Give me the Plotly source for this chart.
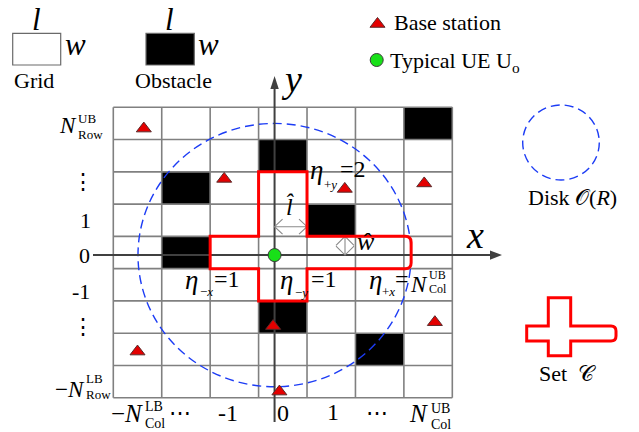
import plotly.graph_objects as go

W, H = 639, 432
SERIF = "Liberation Serif, Times New Roman, DejaVu Serif, serif"

# on-screen size of one grid cell (length l across, width w down) and the
# figure-pixel position of the centre of cell (0, 0)
CELL_W, CELL_H = 48.43, 32.27
ORIGIN = (282.8, 252.5)


def gx(px):
    """Figure pixel column -> grid units (one unit = one cell length)."""
    return (px - ORIGIN[0]) / CELL_W


def gy(py):
    """Figure pixel row -> grid units (one unit = one cell width)."""
    return (ORIGIN[1] - py) / CELL_H


# ---------------------------------------------------------------- data ----
COLS = [-3, -2, -1, 0, 1, 2, 3]
ROWS = [-4, -3, -2, -1, 0, 1, 2, 3, 4]

# obstacle cells (column index, row index)
OBSTACLE_COL = [3, 0, -2, 1, -2, 0, 2]
OBSTACLE_ROW = [4, 3, 2, 1, 0, -2, -3]

# base stations, in grid units
BS_X = [-2.87, -1.21, 1.28, 2.92, -0.20, -3.00, -0.07, 3.14]
BS_Y = [3.84, 2.28, 1.97, 2.14, -2.28, -3.07, -4.31, -2.16]

# typical user
UE_X, UE_Y = -0.17, -0.08

# extent of the set C around the user's cell
ETA_NEG_X = 1
ETA_POS_Y = 2
ETA_NEG_Y = 1

# disk O(R) radius, in cell lengths / cell widths
DISK_RX, DISK_RY = 2.82, 4.08

# ------------------------------------------------------------ styling ----
GRID_LINE = "#808080"
AXIS_COL = "#404040"
RED = "#ff0000"
BS_RED = "#e40000"
UE_GREEN = "#18e018"
DISK_BLUE = "#1c3cf5"
DIM_GRAY = "#8a8a8a"

shapes = []
annotations = []
traces = []


def label(text, px, py, size=22, xanchor="center", italic=False):
    annotations.append(dict(
        x=gx(px), y=gy(py), xref="x", yref="y",
        text=f"<i>{text}</i>" if italic else text,
        showarrow=False, xanchor=xanchor, yanchor="middle",
        font=dict(family=SERIF, size=size, color="black"),
    ))


def cross_path(xl, xr, xa, xb, yb, yt, hy0, hy1, rx, ry):
    """Outline of a plus-shaped set with a rounded right end."""
    return (
        f"M{xa},{yt} L{xb},{yt} L{xb},{hy1} L{xr - rx},{hy1} "
        f"Q{xr},{hy1} {xr},{hy1 - ry} L{xr},{hy0 + ry} "
        f"Q{xr},{hy0} {xr - rx},{hy0} L{xb},{hy0} L{xb},{yb} "
        f"L{xa},{yb} L{xa},{hy0} L{xl},{hy0} L{xl},{hy1} L{xa},{hy1} Z"
    )


# ------------------------------------------------------------- grid ----
for c, r in zip(OBSTACLE_COL, OBSTACLE_ROW):
    shapes.append(dict(type="rect", xref="x", yref="y", layer="below",
                       x0=c - 0.5, x1=c + 0.5, y0=r - 0.5, y1=r + 0.5,
                       fillcolor="black", line=dict(width=0)))

x_lo, x_hi = COLS[0] - 0.5, COLS[-1] + 0.5
y_lo, y_hi = ROWS[0] - 0.5, ROWS[-1] + 0.5
for k in range(len(COLS) + 1):
    xv = x_lo + k
    shapes.append(dict(type="line", xref="x", yref="y", layer="below",
                       x0=xv, x1=xv, y0=y_lo, y1=y_hi,
                       line=dict(color=GRID_LINE, width=1.6)))
for k in range(len(ROWS) + 1):
    yv = y_lo + k
    shapes.append(dict(type="line", xref="x", yref="y", layer="below",
                       x0=x_lo, x1=x_hi, y0=yv, y1=yv,
                       line=dict(color=GRID_LINE, width=1.6)))

# disk O(R) around the user
shapes.append(dict(type="circle", xref="x", yref="y", layer="below",
                   x0=UE_X - DISK_RX, x1=UE_X + DISK_RX,
                   y0=UE_Y - DISK_RY, y1=UE_Y + DISK_RY,
                   line=dict(color=DISK_BLUE, width=1.4, dash="9px,5px")))

# set C
shapes.append(dict(
    type="path", xref="x", yref="y", layer="above",
    path=cross_path(-0.5 - ETA_NEG_X, UE_X + DISK_RX, -0.5, 0.5,
                    -0.5 - ETA_NEG_Y, 0.5 + ETA_POS_Y, -0.5, 0.5,
                    6 / CELL_W, 6 / CELL_H),
    line=dict(color=RED, width=3), fillcolor="rgba(0,0,0,0)"))

# ------------------------------------------------------------- axes ----
ax_x0, ax_x1 = gx(93), gx(502)
ax_y0, ax_y1 = gy(422), gy(76)
head_l_x, head_h_x = 12 / CELL_W, 4.6 / CELL_H
head_l_y, head_h_y = 13 / CELL_H, 4.2 / CELL_W
traces.append(go.Scatter(
    x=[ax_x0, ax_x1 - head_l_x, None, UE_X, UE_X],
    y=[UE_Y, UE_Y, None, ax_y0, ax_y1 - head_l_y],
    mode="lines", line=dict(color=AXIS_COL, width=2), hoverinfo="skip"))
traces.append(go.Scatter(
    x=[ax_x1, ax_x1 - head_l_x, ax_x1 - head_l_x, ax_x1],
    y=[UE_Y, UE_Y + head_h_x, UE_Y - head_h_x, UE_Y],
    mode="lines", fill="toself", fillcolor=AXIS_COL,
    line=dict(width=0, color=AXIS_COL), hoverinfo="skip"))
traces.append(go.Scatter(
    x=[UE_X, UE_X - head_h_y, UE_X + head_h_y, UE_X],
    y=[ax_y1, ax_y1 - head_l_y, ax_y1 - head_l_y, ax_y1],
    mode="lines", fill="toself", fillcolor=AXIS_COL,
    line=dict(width=0, color=AXIS_COL), hoverinfo="skip"))

# dimension arrows for l-hat (horizontal) and w-hat (vertical)
ly = gy(226.7)
cx, cy = 8 / CELL_W, 7.5 / CELL_H
wx = gx(345)
vx, vy = 9 / CELL_W, 9 / CELL_H
dim_x = [UE_X + cx, UE_X, UE_X + cx, None, UE_X, 0.5, None,
         0.5 - cx, 0.5, 0.5 - cx, None,
         wx, wx, None, wx - vx, wx, wx + vx, None, wx - vx, wx, wx + vx]
dim_y = [ly + cy, ly, ly - cy, None, ly, ly, None,
         ly + cy, ly, ly - cy, None,
         0.5, UE_Y, None, 0.5 - vy, 0.5, 0.5 - vy, None,
         UE_Y + vy, UE_Y, UE_Y + vy]
traces.append(go.Scatter(x=dim_x, y=dim_y, mode="lines",
                         line=dict(color=DIM_GRAY, width=1.1), hoverinfo="skip"))

# base stations and typical user
traces.append(go.Scatter(
    x=BS_X, y=BS_Y, mode="markers",
    marker=dict(symbol="triangle-up", size=13, color=BS_RED,
                line=dict(color="#5a2a2a", width=1)), hoverinfo="skip"))
traces.append(go.Scatter(
    x=[UE_X], y=[UE_Y], mode="markers",
    marker=dict(symbol="circle", size=13, color=UE_GREEN,
                line=dict(color="#3a3a3a", width=1)), hoverinfo="skip"))

# ------------------------------------------------------------ legend ----
shapes.append(dict(type="rect", xref="x", yref="y",
                   x0=gx(12.7), x1=gx(60.7), y0=gy(65), y1=gy(33.3),
                   fillcolor="white", line=dict(color="#6a6a6a", width=1.2)))
shapes.append(dict(type="rect", xref="x", yref="y",
                   x0=gx(146), x1=gx(194.3), y0=gy(65), y1=gy(33.3),
                   fillcolor="black", line=dict(color="#6a6a6a", width=1.2)))
traces.append(go.Scatter(
    x=[gx(377.5)], y=[gy(24)], mode="markers",
    marker=dict(symbol="triangle-up", size=13, color=BS_RED,
                line=dict(color="#5a2a2a", width=1)), hoverinfo="skip"))
traces.append(go.Scatter(
    x=[gx(376.7)], y=[gy(60)], mode="markers",
    marker=dict(symbol="circle", size=13, color=UE_GREEN,
                line=dict(color="#3a3a3a", width=1)), hoverinfo="skip"))
shapes.append(dict(type="circle", xref="x", yref="y",
                   x0=gx(522.7), x1=gx(599.3), y0=gy(180), y1=gy(105),
                   line=dict(color=DISK_BLUE, width=1.4, dash="9px,5px")))
shapes.append(dict(
    type="path", xref="x", yref="y",
    path=cross_path(gx(526.7), gx(616), gx(548.3), gx(570.7),
                    gy(355.7), gy(297.7), gy(341), gy(326),
                    5 / CELL_W, 5 / CELL_H),
    line=dict(color=RED, width=3), fillcolor="rgba(0,0,0,0)"))

# --------------------------------------------------------------- text ----
label("l", 36, 19.5, size=31, italic=True)
label("w", 75, 44.5, size=31, italic=True)
label("Grid", 34, 80)
label("l", 169, 19.5, size=31, italic=True)
label("w", 208.3, 44.5, size=31, italic=True)
label("Obstacle", 173, 80)
label("Base station", 447, 22)
label("Typical UE U<sub>o</sub>", 455, 62)
label("Disk 𝒪(<i>R</i>)", 572.7, 197)
label("Set  𝒞", 567.5, 373)

label("y", 291.7, 79, size=38, italic=True)
label("x", 475, 234.5, size=38, italic=True)


def n_label(base, bx, by, sup, sub, sx, sup_y, sub_y, size=23, ssize=13):
    label(base, bx, by, size=size)
    label(sup, sx, sup_y, size=ssize, xanchor="left")
    label(sub, sx, sub_y, size=ssize, xanchor="left")


# row labels
n_label("<i>N</i>", 68, 125, "UB", "Row", 76, 118, 134)
label("⋮", 83.3, 181, size=22)
label("1", 85, 220.3)
label("0", 84.5, 255)
label("-1", 80.5, 291.6)
label("⋮", 83.3, 326, size=22)
n_label("−<i>N</i>", 70, 389, "LB", "Row", 84.3, 378, 394)

# column labels
n_label("−<i>N</i>", 126.7, 413, "LB", "Col", 143, 406.5, 423.5, size=25, ssize=14)
label("⋯", 180, 412, size=22)
label("-1", 227.5, 412.6, size=24)
label("0", 282.5, 413.3, size=24)
label("1", 333, 412, size=24)
label("⋯", 377, 412, size=22)
n_label("<i>N</i>", 418.3, 413, "UB", "Col", 429.3, 408.3, 424.5, size=25, ssize=14)

# set C extents
label("η", 316.5, 170, size=27, italic=True)
label("+<i>y</i>", 330, 184, size=13)
label("=2", 353, 168.6, size=24)
label("η", 191, 280, size=27, italic=True)
label("−<i>x</i>", 206, 291, size=13)
label("=1", 227, 279.4, size=24)
label("η", 286.5, 280, size=27, italic=True)
label("−<i>y</i>", 301, 292, size=13)
label("=1", 323.5, 279.4, size=24)
label("η", 375.7, 280, size=27, italic=True)
label("+<i>x</i>", 388, 291, size=13)
label("=", 402, 279.4, size=24)
n_label("<i>N</i>", 419, 284, "UB", "Col", 427, 275, 289, size=23, ssize=12)

# dimension labels
label("l\u0302", 290, 206, size=24, italic=True)
label("\u0175", 366, 241, size=26, italic=True)

fig = go.Figure(traces)
fig.update_layout(
    width=W, height=H, margin=dict(l=0, r=0, t=0, b=0),
    paper_bgcolor="white", plot_bgcolor="white", showlegend=False,
    xaxis=dict(range=[gx(0), gx(W)], visible=False, fixedrange=True),
    yaxis=dict(range=[gy(H), gy(0)], visible=False, fixedrange=True),
    shapes=shapes, annotations=annotations,
)
fig.write_html("out.html")
